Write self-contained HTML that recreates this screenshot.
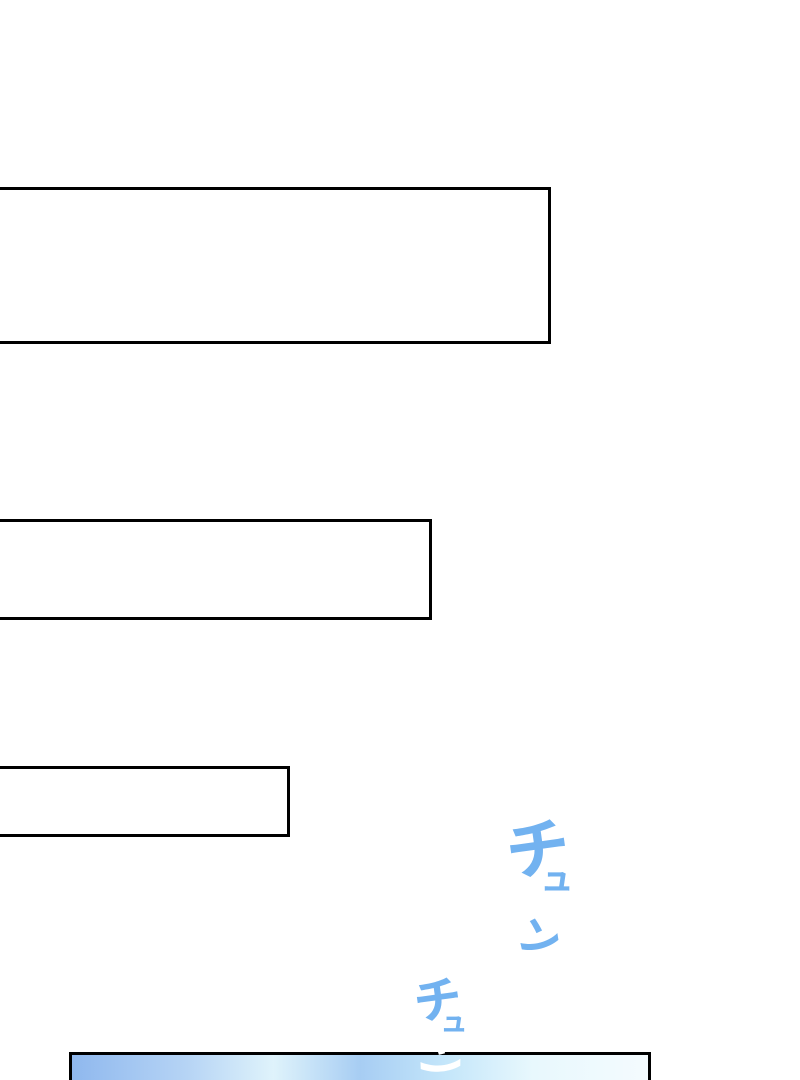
<!DOCTYPE html>
<html style="overflow:hidden;height:1080px"><head><meta charset="utf-8"><style>
body{margin:0;width:800px;height:1080px;background:#fff;position:relative;overflow:hidden;font-family:"Liberation Sans","Noto Sans CJK JP",sans-serif}
.b{position:absolute;border:3px solid #000;background:#fff;box-sizing:border-box}
.t{position:absolute;color:#72b2f0;font-weight:bold;line-height:1;white-space:nowrap}
</style></head><body>
<div class="b" style="left:-5px;top:187px;width:556px;height:157px"></div>
<div class="b" style="left:-5px;top:519px;width:437px;height:101px"></div>
<div class="b" style="left:-5px;top:766px;width:295px;height:71px"></div>
<div class="b" style="left:69px;top:1052px;width:582px;height:40px;background:linear-gradient(90deg,#8fb8ee 0%,#b6d4f5 20%,#dff3fb 35%,#a7cdf3 50%,#c4e6fa 65%,#e8f8fd 80%,#f4fbfe 100%)"></div>
<div class="t" style="left:506px;top:818px;font-size:64px;transform:rotate(-8deg)">チ</div>
<div class="t" style="left:540px;top:862px;font-size:34px">ュ</div>
<div class="t" style="left:518px;top:918px;font-size:42px;transform:rotate(20deg)">ン</div>
<div class="t" style="left:414px;top:978px;font-size:48px;transform:rotate(-8deg)">チ</div>
<div class="t" style="left:440px;top:1008px;font-size:28px">ュ</div>
<div class="t" style="left:418px;top:1040px;font-size:44px;color:#fff;transform:rotate(30deg)">ン</div>
</body></html>
